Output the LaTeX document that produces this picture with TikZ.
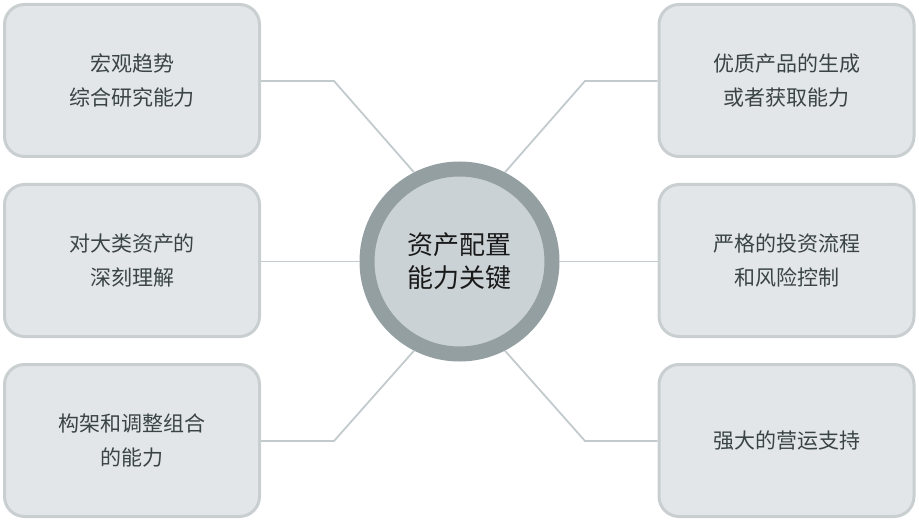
\documentclass[tikz,border=0pt]{standalone}
\usepackage{fontspec}
\setmainfont{Noto Sans CJK SC}
\definecolor{boxfill}{HTML}{E3E6E8}
\definecolor{boxline}{HTML}{C9CFD1}
\definecolor{linkline}{HTML}{C3CACD}
\definecolor{ringcol}{HTML}{949FA2}
\definecolor{hubfill}{HTML}{CBD2D5}
\definecolor{txtcol}{HTML}{3A4446}
\tikzset{
  abilitybox/.style={draw=boxline, fill=boxfill, line width=3pt, rounded corners=20pt,
    minimum width=255pt, minimum height=152pt, inner sep=0pt, align=center,
    text=txtcol, font=\fontsize{21}{34}\selectfont},
  hubnode/.style={circle, draw=ringcol, fill=hubfill, line width=15pt,
    minimum size=185pt, inner sep=0pt, align=center, text=black!90,
    font=\fontsize{26}{33}\selectfont},
  linkline/.style={draw=linkline, line width=1.8pt},
}
\begin{document}
\begin{tikzpicture}[x=1pt,y=-1pt]
\useasboundingbox (0,0) rectangle (919,524);

% Left column of boxes
\node [abilitybox] (lt) at (132,80.5) {宏观趋势\\综合研究能力};
\node [abilitybox] (lm) at (132,260.5) {对大类资产的\\深刻理解};
\node [abilitybox] (lb) at (132,440.5) {构架和调整组合\\的能力};

% Right column of boxes
\node [abilitybox] (rt) at (786.5,80.5) {优质产品的生成\\或者获取能力};
\node [abilitybox] (rm) at (786.5,260.5) {严格的投资流程\\和风险控制};
\node [abilitybox] (rb) at (786.5,440.5) {强大的营运支持};

% Centre circle
\node [hubnode] (hub) at (459.5,261.5) {资产配置\\能力关键};

% Bend points of the connectors
\coordinate (blt) at (334,81);
\coordinate (blb) at (334,441);
\coordinate (brt) at (585,81);
\coordinate (brb) at (585,441);

% Drawing connectors
\draw [linkline] (lt.east |- blt) -- (blt) -- (hub.117);
\draw [linkline] (lm.east |- hub) -- (hub.west);
\draw [linkline] (lb.east |- blb) -- (blb) -- (hub.243);
\draw [linkline] (rt.west |- brt) -- (brt) -- (hub.63);
\draw [linkline] (rm.west |- hub) -- (hub.east);
\draw [linkline] (rb.west |- brb) -- (brb) -- (hub.-63);
\end{tikzpicture}
\end{document}
